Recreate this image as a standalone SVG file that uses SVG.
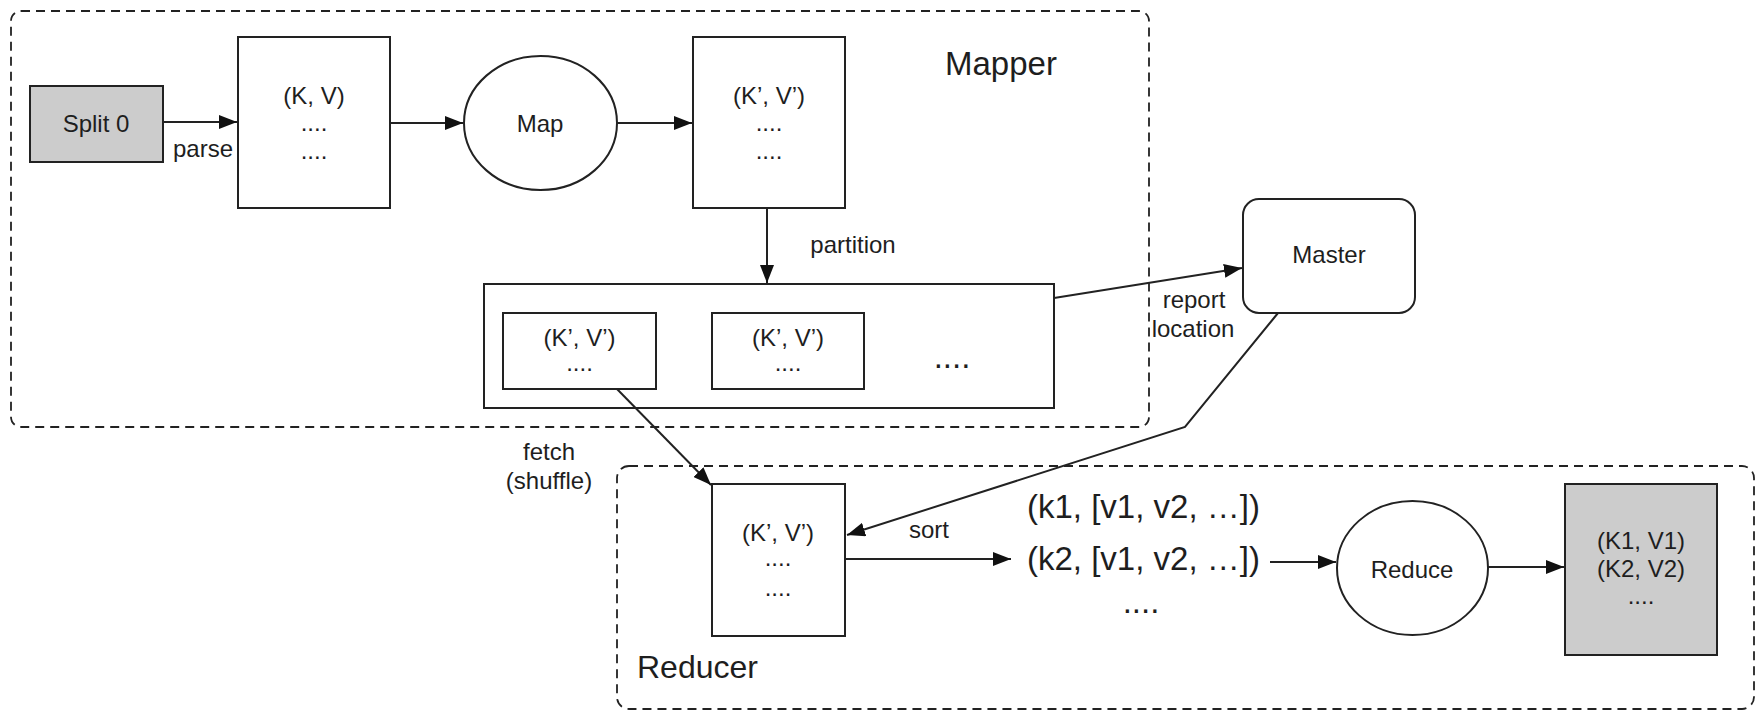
<svg xmlns="http://www.w3.org/2000/svg" width="1763" height="711" viewBox="0 0 1763 711">
<defs>
<style>
.t{font-family:"Liberation Sans",Arial,sans-serif;fill:#1e1e1e;}
.s{font-size:24px;text-anchor:middle;}
.b{font-size:33px;}
.box{fill:#fff;stroke:#222;stroke-width:2;}
.gray{fill:#cccccc;stroke:#222;stroke-width:2;}
.grp{fill:none;stroke:#222;stroke-width:1.8;stroke-dasharray:9 6;}
.c{fill:none;stroke:#222;stroke-width:2;}
</style>
<marker id="ah" markerUnits="userSpaceOnUse" markerWidth="18" markerHeight="14" refX="18" refY="7" orient="auto">
<path d="M0,0 L18,7 L0,14 z" fill="#111"/>
</marker>
</defs>
<rect width="1763" height="711" fill="#fff"/>

<g id="mapper-group">
<rect class="grp" x="11" y="11" width="1138" height="416" rx="10"/>
<text class="t b" x="945" y="75">Mapper</text>
</g>
<g id="reducer-group">
<rect class="grp" x="617" y="466" width="1137" height="243" rx="12"/>
<text class="t" x="637" y="678" font-size="32">Reducer</text>
</g>

<g id="split0">
<rect class="gray" x="30" y="86" width="133" height="76"/>
<text class="t s" x="96" y="132" font-size="25">Split 0</text>
</g>
<g id="kv">
<rect class="box" x="238" y="37" width="152" height="171"/>
<text class="t s" x="314" y="104">(K, V)</text>
<text class="t s" x="314" y="131">....</text>
<text class="t s" x="314" y="159">....</text>
</g>
<g id="map">
<ellipse class="box" cx="540.5" cy="123" rx="76.5" ry="67"/>
<text class="t s" x="540" y="132">Map</text>
</g>
<g id="kv2">
<rect class="box" x="693" y="37" width="152" height="171"/>
<text class="t s" x="769" y="104">(K’, V’)</text>
<text class="t s" x="769" y="131">....</text>
<text class="t s" x="769" y="159">....</text>
</g>
<g id="partitions">
<rect class="box" x="484" y="284" width="570" height="124"/>
<rect class="box" x="503" y="313" width="153" height="76"/>
<text class="t s" x="579.5" y="346">(K’, V’)</text>
<text class="t s" x="579.5" y="371">....</text>
<rect class="box" x="712" y="313" width="152" height="76"/>
<text class="t s" x="788" y="346">(K’, V’)</text>
<text class="t s" x="788" y="371">....</text>
<text class="t b" x="952" y="368" text-anchor="middle">....</text>
</g>
<g id="master">
<rect class="box" x="1243" y="199" width="172" height="114" rx="16"/>
<text class="t s" x="1329" y="263">Master</text>
</g>
<g id="reducer-input">
<rect class="box" x="712" y="484" width="133" height="152"/>
<text class="t s" x="778" y="541">(K’, V’)</text>
<text class="t s" x="778" y="566">....</text>
<text class="t s" x="778" y="596">....</text>
</g>
<g id="sorted">
<text class="t b" x="1027" y="518">(k1, [v1, v2, …])</text>
<text class="t b" x="1027" y="570">(k2, [v1, v2, …])</text>
<text class="t b" x="1141" y="613" text-anchor="middle">....</text>
</g>
<g id="reduce">
<ellipse class="box" cx="1412.5" cy="568" rx="75.5" ry="67"/>
<text class="t s" x="1412" y="578">Reduce</text>
</g>
<g id="output">
<rect class="gray" x="1565" y="484" width="152" height="171"/>
<text class="t s" x="1641" y="549">(K1, V1)</text>
<text class="t s" x="1641" y="577">(K2, V2)</text>
<text class="t s" x="1641" y="604">....</text>
</g>

<g id="connectors">
<line class="c" x1="163" y1="122" x2="237" y2="122" marker-end="url(#ah)"/>
<line class="c" x1="390" y1="123" x2="463" y2="123" marker-end="url(#ah)"/>
<line class="c" x1="617" y1="123" x2="692" y2="123" marker-end="url(#ah)"/>
<line class="c" x1="767" y1="208" x2="767" y2="283" marker-end="url(#ah)"/>
<line class="c" x1="1054" y1="298" x2="1242" y2="268" marker-end="url(#ah)"/>
<polyline class="c" points="1278,313 1185,427 847,535" marker-end="url(#ah)"/>
<line class="c" x1="617" y1="389" x2="711" y2="485" marker-end="url(#ah)"/>
<line class="c" x1="845" y1="559" x2="1011" y2="559" marker-end="url(#ah)"/>
<line class="c" x1="1270" y1="562" x2="1336" y2="562" marker-end="url(#ah)"/>
<line class="c" x1="1488" y1="567" x2="1564" y2="567" marker-end="url(#ah)"/>
<text class="t s" x="203" y="157">parse</text>
<text class="t s" x="853" y="253">partition</text>
<text class="t s" x="1194" y="308">report</text>
<text class="t s" x="1193" y="337">location</text>
<text class="t s" x="549" y="460">fetch</text>
<text class="t s" x="549" y="489">(shuffle)</text>
<text class="t s" x="929" y="538">sort</text>
</g>
</svg>
